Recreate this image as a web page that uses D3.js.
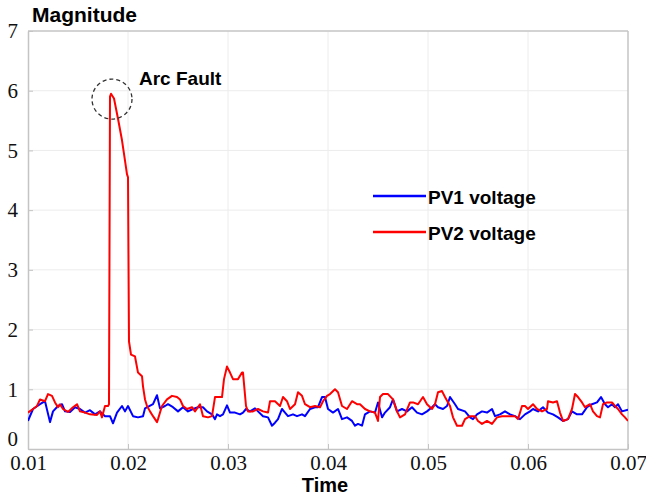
<!DOCTYPE html>
<html>
<head>
<meta charset="utf-8">
<script src="https://cdn.jsdelivr.net/npm/d3@7"></script>
<style>
  body { margin: 0; background: #fff; }
  svg { display: block; }
</style>
</head>
<body>
<div id="chart"></div>
<script>
// axis ticks
const xTicks = [0.01, 0.02, 0.03, 0.04, 0.05, 0.06, 0.07];
const yTicks = [0, 1, 2, 3, 4, 5, 6, 7];

// PV1 voltage (blue)
const pv1Time = [0.0100,0.0105,0.0112,0.0117,0.0122,0.0125,0.0130,0.0134,0.0137,0.0142,0.0147,0.0152,0.0157,0.0162,0.0167,0.0172,0.0177,0.0182,0.0185,0.0189,0.0194,0.0197,0.0200,0.0205,0.0210,0.0215,0.0217,0.0225,0.0229,0.0232,0.0237,0.0240,0.0245,0.0250,0.0255,0.0260,0.0265,0.0270,0.0275,0.0279,0.0284,0.0287,0.0289,0.0292,0.0295,0.0299,0.0302,0.0307,0.0312,0.0315,0.0318,0.0322,0.0327,0.0330,0.0335,0.0340,0.0344,0.0347,0.0350,0.0354,0.0357,0.0360,0.0365,0.0369,0.0374,0.0377,0.0382,0.0387,0.0390,0.0394,0.0397,0.0400,0.0405,0.0410,0.0414,0.0419,0.0424,0.0427,0.0430,0.0434,0.0437,0.0442,0.0447,0.0450,0.0454,0.0457,0.0462,0.0465,0.0469,0.0474,0.0479,0.0484,0.0489,0.0494,0.0499,0.0504,0.0507,0.0510,0.0515,0.0519,0.0522,0.0527,0.0530,0.0537,0.0542,0.0545,0.0549,0.0554,0.0559,0.0564,0.0567,0.0572,0.0577,0.0582,0.0587,0.0592,0.0597,0.0602,0.0605,0.0610,0.0615,0.0620,0.0625,0.0630,0.0635,0.0640,0.0644,0.0649,0.0654,0.0659,0.0664,0.0669,0.0673,0.0677,0.0680,0.0684,0.0687,0.0690,0.0694,0.0700];
const pv1 = [0.47,0.67,0.75,0.80,0.45,0.63,0.72,0.75,0.63,0.62,0.70,0.67,0.61,0.65,0.58,0.63,0.55,0.55,0.43,0.61,0.72,0.63,0.72,0.55,0.53,0.55,0.68,0.75,0.90,0.68,0.72,0.75,0.70,0.63,0.70,0.63,0.67,0.70,0.70,0.63,0.58,0.50,0.58,0.55,0.58,0.73,0.61,0.61,0.58,0.61,0.67,0.63,0.68,0.63,0.55,0.53,0.39,0.44,0.50,0.67,0.61,0.55,0.58,0.55,0.58,0.55,0.67,0.70,0.70,0.87,0.87,0.67,0.61,0.67,0.50,0.53,0.47,0.39,0.42,0.39,0.58,0.63,0.61,0.78,0.53,0.61,0.70,0.83,0.63,0.67,0.63,0.70,0.61,0.58,0.63,0.70,0.75,0.70,0.67,0.72,0.87,0.75,0.67,0.63,0.53,0.50,0.58,0.63,0.61,0.67,0.55,0.58,0.63,0.58,0.55,0.50,0.58,0.63,0.67,0.63,0.70,0.61,0.58,0.53,0.47,0.50,0.63,0.58,0.58,0.70,0.75,0.78,0.87,0.75,0.70,0.75,0.70,0.75,0.63,0.66];

// PV2 voltage (red)
const pv2Time = [0.0100,0.0105,0.0109,0.0112,0.0117,0.0120,0.0124,0.0127,0.0130,0.0132,0.0135,0.0140,0.0145,0.0149,0.0152,0.0157,0.0162,0.0169,0.0172,0.0174,0.0177,0.0180,0.0181,0.0182,0.0183,0.0186,0.0190,0.0194,0.0197,0.0199,0.0200,0.0201,0.0203,0.0207,0.0210,0.0214,0.0215,0.0217,0.0219,0.0222,0.0225,0.0229,0.0230,0.0234,0.0239,0.0244,0.0249,0.0252,0.0255,0.0259,0.0264,0.0267,0.0272,0.0275,0.0280,0.0284,0.0287,0.0290,0.0294,0.0296,0.0299,0.0302,0.0305,0.0310,0.0314,0.0315,0.0318,0.0320,0.0325,0.0330,0.0335,0.0340,0.0342,0.0347,0.0352,0.0355,0.0359,0.0362,0.0367,0.0370,0.0374,0.0377,0.0382,0.0387,0.0392,0.0395,0.0399,0.0402,0.0407,0.0410,0.0414,0.0419,0.0424,0.0429,0.0432,0.0437,0.0442,0.0447,0.0450,0.0452,0.0455,0.0460,0.0465,0.0469,0.0472,0.0477,0.0482,0.0485,0.0490,0.0495,0.0499,0.0504,0.0507,0.0510,0.0514,0.0517,0.0522,0.0525,0.0529,0.0534,0.0537,0.0542,0.0547,0.0550,0.0554,0.0559,0.0564,0.0569,0.0574,0.0580,0.0587,0.0590,0.0594,0.0597,0.0600,0.0605,0.0609,0.0614,0.0619,0.0620,0.0625,0.0629,0.0632,0.0635,0.0640,0.0644,0.0647,0.0650,0.0654,0.0657,0.0662,0.0665,0.0669,0.0672,0.0675,0.0679,0.0684,0.0687,0.0690,0.0694,0.0697,0.0700];
const pv2 = [0.61,0.67,0.72,0.83,0.80,0.92,0.89,0.78,0.70,0.75,0.67,0.62,0.70,0.75,0.63,0.61,0.58,0.57,0.63,0.53,0.72,0.72,0.75,5.90,5.95,5.87,5.53,5.17,4.83,4.60,4.55,1.80,1.58,1.55,1.28,1.22,1.05,0.83,0.72,0.63,0.55,0.45,0.50,0.72,0.83,0.89,0.87,0.83,0.72,0.67,0.70,0.63,0.75,0.55,0.53,0.55,0.87,0.87,0.87,1.17,1.38,1.28,1.17,1.17,1.28,1.28,0.72,0.63,0.63,0.67,0.63,0.61,0.80,0.80,0.72,0.87,0.80,0.67,0.75,0.95,0.89,0.75,0.70,0.72,0.70,0.80,0.89,0.92,1.00,0.95,0.72,0.67,0.80,0.75,0.75,0.67,0.63,0.61,0.47,0.87,0.92,0.92,0.83,0.63,0.53,0.58,0.78,0.78,0.75,0.87,0.75,0.67,0.75,0.95,0.97,0.87,0.72,0.53,0.39,0.39,0.50,0.55,0.55,0.47,0.42,0.47,0.42,0.53,0.55,0.55,0.55,0.50,0.72,0.72,0.67,0.75,0.67,0.63,0.67,0.80,0.78,0.80,0.61,0.47,0.50,0.67,0.92,0.87,0.78,0.70,0.75,0.63,0.55,0.53,0.75,0.78,0.78,0.72,0.67,0.58,0.53,0.47];

const seriesNames = ["PV1 voltage", "PV2 voltage"];
const seriesColors = ["#0000ff", "#ff0000"];

const width = 646, height = 499;
const margin = {top: 31, right: 18, bottom: 50, left: 28};

const svg = d3.select("#chart").append("svg")
  .attr("width", width)
  .attr("height", height);

const x = d3.scaleLinear().domain([0.01, 0.07]).range([margin.left, width - margin.right]);
const y = d3.scaleLinear().domain([0, 7]).range([height - margin.bottom, margin.top]);

svg.append("clipPath").attr("id", "clip")
  .append("rect")
  .attr("x", margin.left).attr("y", margin.top)
  .attr("width", x.range()[1] - margin.left)
  .attr("height", y.range()[0] - margin.top);

// grid
svg.append("g")
  .selectAll("line")
  .data(xTicks.slice(1, -1))
  .join("line")
  .attr("x1", d => x(d)).attr("x2", d => x(d))
  .attr("y1", y(0)).attr("y2", y(7))
  .attr("stroke", "#ececec");
svg.append("g")
  .selectAll("line")
  .data(yTicks.slice(1, -1))
  .join("line")
  .attr("x1", x(0.01)).attr("x2", x(0.07))
  .attr("y1", d => y(d)).attr("y2", d => y(d))
  .attr("stroke", "#ececec");

// axes (ticks point inward)
const serif = "'Liberation Serif', 'Times New Roman', Times, serif";
const xAxis = svg.append("g")
  .attr("transform", `translate(0,${y(0)})`)
  .call(d3.axisBottom(x).tickValues(xTicks).tickFormat(d3.format(".2f")).tickSizeInner(-5).tickSizeOuter(0).tickPadding(6));
const yAxis = svg.append("g")
  .attr("transform", `translate(${x(0.01)},0)`)
  .call(d3.axisLeft(y).tickValues(yTicks).tickFormat(d3.format("d")).tickSizeInner(-5).tickSizeOuter(0).tickPadding(10));

[xAxis, yAxis].forEach(g => {
  g.attr("font-family", serif).attr("font-size", 21);
  g.select(".domain").attr("stroke", "#c4c4c4").attr("stroke-width", 1.5);
  g.selectAll(".tick line").attr("stroke", "#c4c4c4");
  g.selectAll(".tick text").attr("fill", "#111");
});
// lift the "0" label clear of the x labels
yAxis.selectAll(".tick text").filter(d => d === 0).attr("dy", "-0.18em");

// top / right box
svg.append("line")
  .attr("x1", x(0.01)).attr("x2", x(0.07))
  .attr("y1", y(7)).attr("y2", y(7))
  .attr("stroke", "#c4c4c4").attr("stroke-width", 1.5);
svg.append("line")
  .attr("x1", x(0.07)).attr("x2", x(0.07))
  .attr("y1", y(7)).attr("y2", y(0))
  .attr("stroke", "#c4c4c4").attr("stroke-width", 1.5);

// series
const line = d3.line()
  .x(d => x(d[0]))
  .y(d => y(d[1]));

const series = [
  d3.zip(pv1Time, pv1),
  d3.zip(pv2Time, pv2)
];

svg.append("g")
  .attr("clip-path", "url(#clip)")
  .selectAll("path")
  .data(series)
  .join("path")
  .attr("d", line)
  .attr("fill", "none")
  .attr("stroke", (d, i) => seriesColors[i])
  .attr("stroke-width", 2)
  .attr("stroke-linejoin", "round");

// labels
const boldFont = "'Liberation Sans', Arial, sans-serif";
svg.append("text")
  .attr("x", 32).attr("y", 22)
  .style("font-family", boldFont).style("font-weight", "bold").style("font-size", "21px")
  .text("Magnitude");
svg.append("text")
  .attr("x", 325).attr("y", 492)
  .attr("text-anchor", "middle")
  .style("font-family", boldFont).style("font-weight", "bold").style("font-size", "20px")
  .text("Time");

// annotation
svg.append("circle")
  .attr("cx", x(0.0184)).attr("cy", y(5.86))
  .attr("r", 20)
  .attr("fill", "none")
  .attr("stroke", "#333")
  .attr("stroke-width", 1.3)
  .attr("stroke-dasharray", "4,3");
svg.append("text")
  .attr("x", 139).attr("y", 85)
  .style("font-family", boldFont).style("font-weight", "bold").style("font-size", "19px")
  .text("Arc Fault");

// legend
const legend = svg.append("g")
  .selectAll("g")
  .data(seriesNames)
  .join("g")
  .attr("transform", (d, i) => `translate(373,${196 + i * 36})`);
legend.append("line")
  .attr("x1", 0).attr("x2", 53)
  .attr("stroke", (d, i) => seriesColors[i])
  .attr("stroke-width", 2.5);
legend.append("text")
  .attr("x", 55).attr("y", 8)
  .style("font-family", boldFont).style("font-weight", "bold").style("font-size", "19px")
  .text(d => d);
</script>
</body>
</html>
